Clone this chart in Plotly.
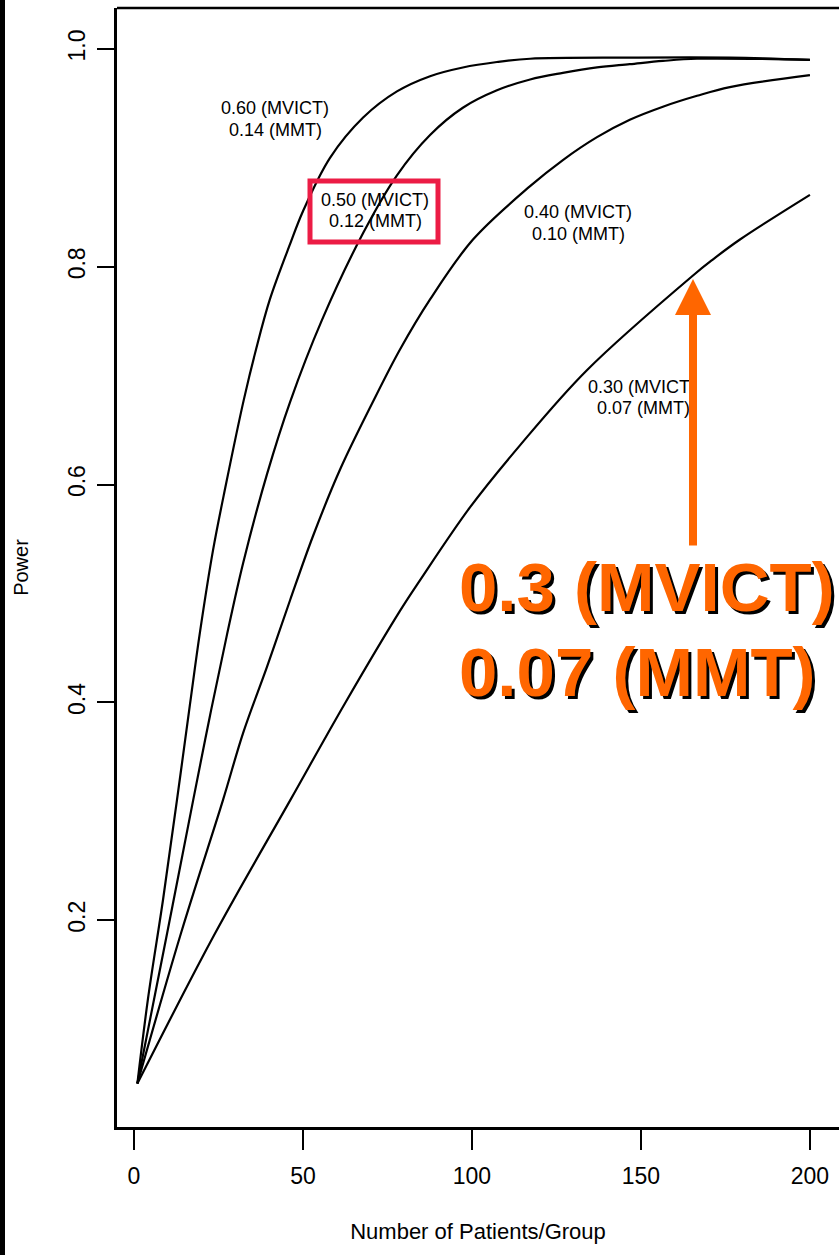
import plotly.graph_objects as go

# Power vs. number of patients per group, one curve per effect size
n_060 = [1, 4.1, 8.6, 12.7, 16.6, 19.5, 23.4, 27.2, 32.5, 36.1, 40.2, 46.2, 50.0,
         58.0, 67.8, 77.8, 87.6, 97.3, 107.4, 117.2, 146.7, 176.3, 200]
power_060 = [0.050, 0.127, 0.219, 0.310, 0.399, 0.464, 0.540, 0.600, 0.678, 0.724,
             0.770, 0.821, 0.851, 0.900, 0.937, 0.961, 0.975, 0.983, 0.988, 0.991,
             0.992, 0.992, 0.990]

n_050 = [1, 9.8, 17.5, 22.5, 27.5, 32.3, 39.4, 46.2, 55.6, 67.8, 77.8, 87.6, 97.3,
         107.4, 117.2, 126.9, 137.0, 146.7, 156.5, 166.6, 200]
power_050 = [0.050, 0.188, 0.310, 0.388, 0.462, 0.528, 0.610, 0.676, 0.751, 0.831,
             0.884, 0.921, 0.946, 0.962, 0.972, 0.978, 0.983, 0.986, 0.989, 0.991,
             0.990]

n_040 = [1, 13.9, 26.3, 32.3, 39.4, 46.2, 53.0, 61.0, 70.7, 78.7, 87.6, 100.3,
         117.2, 126.9, 137.0, 146.7, 156.5, 166.6, 176.3, 200]
power_040 = [0.050, 0.188, 0.310, 0.372, 0.433, 0.494, 0.553, 0.614, 0.676, 0.724,
             0.770, 0.825, 0.874, 0.898, 0.919, 0.935, 0.947, 0.957, 0.965, 0.976]

n_030 = [1, 24.0, 46.2, 62.4, 78.7, 84.6, 99.4, 114.2, 134.0, 165.4, 171.0, 179.3, 200]
power_030 = [0.050, 0.188, 0.310, 0.399, 0.484, 0.512, 0.579, 0.636, 0.705, 0.792,
             0.806, 0.825, 0.866]

curve_labels = [
    ("0.60 (MVICT)", "0.14 (MMT)"),
    ("0.50 (MVICT)", "0.12 (MMT)"),
    ("0.40 (MVICT)", "0.10 (MMT)"),
    ("0.30 (MVICT)", "0.07 (MMT)"),
]
callout_lines = ["0.3 (MVICT)", "0.07 (MMT)"]

x_ticks = [0, 50, 100, 150, 200]
y_ticks = [0.2, 0.4, 0.6, 0.8, 1.0]
y_tick_text = ["0.2", "0.4", "0.6", "0.8", "1.0"]

FONT = "Liberation Sans, Arial, Helvetica, sans-serif"
ORANGE = "#FF6600"
RED = "#EC1C45"

W, H = 839, 1255
M_L, M_R, M_T, M_B = 117, 0, 8, 128
X_RANGE = [-5.03, 208.6]
Y_RANGE = [0.0101, 1.0376]

plot_w = W - M_L - M_R
plot_h = H - M_T - M_B


def xd(px):
    """page pixel column -> x data value"""
    return X_RANGE[0] + (px - M_L) / plot_w * (X_RANGE[1] - X_RANGE[0])


def yd(py):
    """page pixel row -> y data value"""
    return Y_RANGE[1] - (py - M_T) / plot_h * (Y_RANGE[1] - Y_RANGE[0])


fig = go.Figure()
for n, p in [(n_060, power_060), (n_050, power_050), (n_040, power_040), (n_030, power_030)]:
    fig.add_trace(go.Scatter(
        x=n, y=p, mode="lines",
        line=dict(color="black", width=2.2, shape="spline", smoothing=1.0),
        showlegend=False, hoverinfo="skip",
    ))

annotations = []
# curve labels: (centre x, baseline) of each two-line label
label_pos = [((275, 114), (275, 136)),
             ((375, 206), (375, 227)),
             ((578, 218), (578, 240)),
             ((642, 393), (643, 414))]
small = 18
for (l1, l2), ((x1, b1), (x2, b2)) in zip(curve_labels, label_pos):
    for txt, cx, base in ((l1, x1, b1), (l2, x2, b2)):
        annotations.append(dict(
            x=xd(cx), y=yd(base - 0.35 * small), text=txt, showarrow=False,
            xanchor="center", yanchor="middle",
            font=dict(family=FONT, size=small, color="black"),
        ))

# orange arrow pointing at the 0.30 curve
annotations.append(dict(
    x=xd(693), y=yd(279), text="", showarrow=True,
    ax=0, ay=547 - 279, axref="pixel", ayref="pixel",
    arrowhead=2, arrowsize=0.9, arrowwidth=8, arrowcolor=ORANGE,
))

# large call-out text with drop shadow
big = 69
for txt, base in zip(callout_lines, (612, 697)):
    for dxp, dyp, col in ((3, 3, "#000000"), (0, 0, ORANGE)):
        annotations.append(dict(
            x=xd(457 + dxp), y=yd(base - 0.35 * big + dyp), text=f"<b>{txt}</b>",
            showarrow=False, xanchor="left", yanchor="middle",
            font=dict(family=FONT, size=big, color=col),
        ))

shapes = [
    # top edge of the frame
    dict(type="line", xref="paper", yref="paper", x0=0, x1=1, y0=1, y1=1,
         line=dict(color="black", width=2.5)),
    # highlighted label box
    dict(type="rect", xref="x", yref="y", x0=xd(310), x1=xd(438), y0=yd(242), y1=yd(181),
         line=dict(color=RED, width=5)),
    # dark strip along the left edge of the page
    dict(type="rect", xref="paper", yref="paper",
         x0=(0 - M_L) / plot_w, x1=(5 - M_L) / plot_w,
         y0=(M_T + plot_h - H) / plot_h, y1=(M_T + plot_h) / plot_h,
         line=dict(width=0), fillcolor="black"),
]

fig.update_layout(
    width=W, height=H,
    margin=dict(l=M_L, r=M_R, t=M_T, b=M_B),
    paper_bgcolor="white", plot_bgcolor="white",
    showlegend=False,
    annotations=annotations,
    shapes=shapes,
    xaxis=dict(
        range=X_RANGE, tickvals=x_ticks, ticktext=[str(v) for v in x_ticks],
        showgrid=False, zeroline=False,
        showline=True, linecolor="black", linewidth=2.5,
        ticks="outside", ticklen=20, tickwidth=2, tickcolor="black",
        tickfont=dict(family=FONT, size=23, color="black"),
        ticklabelstandoff=7,
        title=dict(text="Number of Patients/Group",
                   font=dict(family=FONT, size=22, color="black"), standoff=36),
    ),
    yaxis=dict(
        range=Y_RANGE, tickvals=y_ticks, ticktext=y_tick_text,
        showgrid=False, zeroline=False,
        showline=True, linecolor="black", linewidth=2.5,
        ticks="outside", ticklen=17, tickwidth=2, tickcolor="black",
        tickangle=-90,
        tickfont=dict(family=FONT, size=23, color="black"),
        ticklabelstandoff=3,
        title=dict(text="Power",
                   font=dict(family=FONT, size=20, color="black"), standoff=31),
    ),
)

fig.write_html("out.html")
